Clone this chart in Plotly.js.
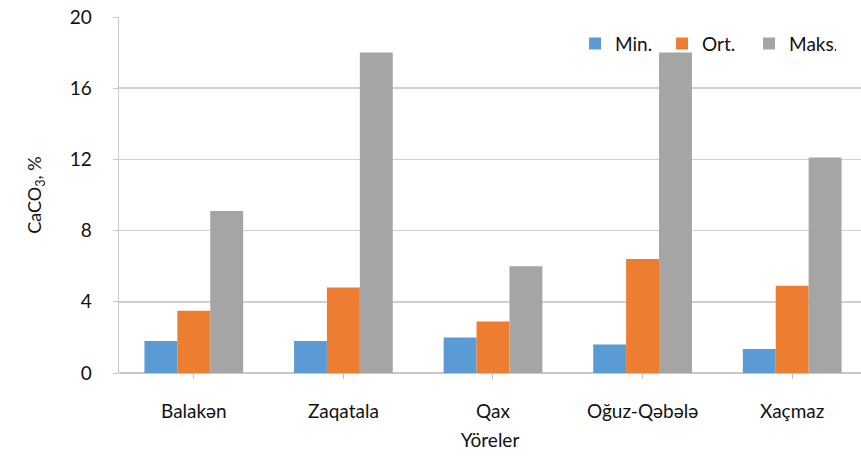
<!DOCTYPE html>
<html>
<head>
<meta charset="utf-8">
<script src="https://cdn.plot.ly/plotly-3.0.1.min.js"></script>
<style>html,body{margin:0;padding:0;background:#fff;overflow:hidden}</style>
</head>
<body>
<div id="chart" style="width:861px;height:460px"></div>
<script>
const categories = ["Balakən", "Zaqatala", "Qax", "Oğuz-Qəbələ", "Xaçmaz"];
const minValues = [1.8, 1.8, 2.0, 1.6, 1.35];
const ortValues = [3.5, 4.8, 2.9, 6.4, 4.9];
const maksValues = [9.1, 18.0, 6.0, 18.0, 12.1];
const seriesNames = ["Min.", "Ort.", "Maks."];
const yTicks = [0, 4, 8, 12, 16, 20];

const colors = ["#5B9BD5", "#ED7D31", "#A5A5A5"];
const font = "Lato, Open Sans, sans-serif";
const txt = "#111111";
const idx = categories.map((_, i) => i);
const traces = [minValues, ortValues, maksValues].map((v, k) => ({
  type: "bar", x: idx, y: v, name: seriesNames[k],
  marker: {color: colors[k], line: {width: 0}},
  hoverinfo: "skip"
}));

const layout = {
  width: 861, height: 460,
  margin: {l: 119, r: 0, t: 17, b: 87},
  paper_bgcolor: "#fff", plot_bgcolor: "#fff",
  barmode: "group", bargap: 0.34, bargroupgap: 0,
  font: {family: font, size: 19, color: txt},
  xaxis: {
    range: [-0.5, 4.46], tickvals: idx, ticktext: categories,
    showgrid: false, zeroline: false,
    showline: false,
    ticks: "outside", tickson: "boundaries", ticklen: 5, tickcolor: "#bfbfbf",
    ticklabelstandoff: 16,
    tickfont: {size: 19, color: txt},
    title: {text: "Yöreler", font: {size: 19, color: txt}, standoff: 12}
  },
  yaxis: {
    range: [0, 20], tickvals: yTicks,
    showgrid: true, gridcolor: "#d0d0d0", gridwidth: 1.5,
    zeroline: true, zerolinecolor: "#c8c8c8", zerolinewidth: 1.5,
    showline: true, linecolor: "#c8c8c8", linewidth: 1.5,
    ticks: "outside", ticklen: 5, tickcolor: "#c8c8c8",
    ticklabelstandoff: 17,
    tickfont: {size: 19, color: txt},
    title: {text: "CaCO<sub>3</sub>, %", font: {size: 18, color: txt}, standoff: 23}
  },
  legend: {
    orientation: "h", x: 0.6146, y: 0.925, xanchor: "left", yanchor: "middle",
    font: {size: 19, color: txt}, bgcolor: "rgba(255,255,255,0)",
    itemwidth: 30, traceorder: "normal", entrywidth: 42
  },
  showlegend: true
};

Plotly.newPlot("chart", traces, layout, {displayModeBar: false, staticPlot: true});
</script>
</body>
</html>
